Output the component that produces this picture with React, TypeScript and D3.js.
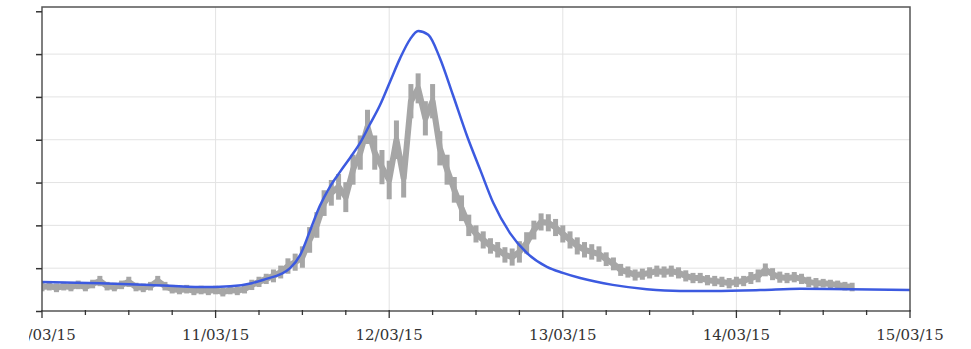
import * as d3 from "d3";
import { useEffect, useRef } from "react";

// model curve (blue): hours since 10/03/15 00:00 and value
const modelHours = [0, 8, 15, 22, 26, 29, 31, 33, 34.3, 35.7, 37, 38.4, 39.8, 41.2, 42.6, 44, 45.3, 46.7, 48.1, 49.5, 50.9, 52, 53.4, 55, 56.8, 58.8, 60.6, 62.4, 64.7, 67, 69.8, 72, 74.4, 78.9, 83.6, 88.2, 92.8, 99.3, 104.8, 111.7, 120];
const modelValues = [0.68, 0.65, 0.61, 0.56, 0.58, 0.65, 0.75, 0.86, 1.0, 1.31, 1.85, 2.45, 2.9, 3.25, 3.58, 3.93, 4.35, 4.8, 5.35, 5.9, 6.35, 6.54, 6.45, 5.91, 5.05, 4.07, 3.29, 2.52, 1.82, 1.36, 1.03, 0.89, 0.77, 0.61, 0.51, 0.47, 0.47, 0.49, 0.52, 0.51, 0.49];

// observed series (grey), one reading per hour from 10/03/15 00:00
const observed = [
  0.56, 0.58, 0.54, 0.58, 0.56, 0.61, 0.56, 0.63, 0.7, 0.58,
  0.56, 0.61, 0.68, 0.56, 0.54, 0.58, 0.7, 0.58, 0.51, 0.49,
  0.51, 0.47, 0.49, 0.47, 0.49, 0.44, 0.49, 0.47, 0.51, 0.61,
  0.68, 0.75, 0.82, 0.91, 1.05, 1.14, 1.26, 1.66, 2.01, 2.52,
  2.76, 2.9, 2.66, 3.3, 3.7, 4.3, 3.7, 3.36, 3.06, 4.0,
  3.1, 4.9, 5.2, 4.5, 4.9, 3.8, 3.3, 2.83, 2.4, 2.0,
  1.8, 1.66, 1.52, 1.43, 1.31, 1.26, 1.38, 1.59, 1.89, 2.08,
  2.06, 1.95, 1.8, 1.66, 1.52, 1.43, 1.38, 1.33, 1.21, 1.1,
  0.96, 0.91, 0.84, 0.86, 0.89, 0.93, 0.91, 0.93, 0.89, 0.82,
  0.77, 0.77, 0.72, 0.7, 0.68, 0.65, 0.68, 0.7, 0.77, 0.82,
  0.96, 0.86, 0.79, 0.77, 0.79, 0.75, 0.68, 0.65, 0.65, 0.63,
  0.61, 0.58, 0.56,
];
// half-range of the scatter around each hourly reading
const observedSpread = [
  0.1, 0.1, 0.1, 0.1, 0.1, 0.1, 0.1, 0.1, 0.12, 0.1,
  0.1, 0.1, 0.12, 0.1, 0.1, 0.1, 0.12, 0.1, 0.1, 0.1,
  0.1, 0.1, 0.1, 0.1, 0.1, 0.1, 0.1, 0.1, 0.1, 0.12,
  0.12, 0.12, 0.15, 0.15, 0.18, 0.2, 0.25, 0.3, 0.3, 0.3,
  0.3, 0.3, 0.35, 0.35, 0.4, 0.4, 0.4, 0.4, 0.45, 0.45,
  0.45, 0.4, 0.35, 0.4, 0.4, 0.4, 0.35, 0.3, 0.3, 0.25,
  0.2, 0.2, 0.18, 0.18, 0.18, 0.2, 0.25, 0.25, 0.22, 0.2,
  0.2, 0.2, 0.2, 0.2, 0.2, 0.18, 0.18, 0.18, 0.16, 0.15,
  0.14, 0.13, 0.13, 0.13, 0.13, 0.13, 0.13, 0.13, 0.13, 0.13,
  0.12, 0.12, 0.12, 0.12, 0.12, 0.12, 0.12, 0.12, 0.14, 0.15,
  0.15, 0.14, 0.13, 0.12, 0.12, 0.12, 0.12, 0.12, 0.1, 0.1,
  0.1, 0.1, 0.1,
];

const dayLabels = ["10/03/15", "11/03/15", "12/03/15", "13/03/15", "14/03/15", "15/03/15"];
const yTicks = [0, 1, 2, 3, 4, 5, 6, 7];

const W = 971;
const H = 349;
const M = { left: 42, right: 910, top: 7, bottom: 311 };

type Pt = { t: Date; v: number; s?: number };

export default function App() {
  const ref = useRef<SVGSVGElement>(null);

  useEffect(() => {
    const svg = d3.select(ref.current);
    svg.selectAll("*").remove();

    const start = new Date(2015, 2, 10);
    const hourDate = (h: number) => new Date(start.getTime() + h * 3600e3);
    const x = d3.scaleTime().domain([start, new Date(2015, 2, 15)]).range([M.left, M.right]);
    const y = d3.scaleLinear().domain([0, 7.1]).range([M.bottom, M.top]);

    const defs = svg.append("defs");
    defs.append("clipPath").attr("id", "lblclip").append("rect").attr("x", 29).attr("y", 0).attr("width", W).attr("height", H);
    defs.append("clipPath").attr("id", "plotclip").append("rect")
      .attr("x", M.left).attr("y", M.top).attr("width", M.right - M.left).attr("height", M.bottom - M.top);

    // grid
    const g = svg.append("g");
    g.selectAll("line.hg").data(yTicks.slice(1, 7)).join("line")
      .attr("x1", M.left).attr("x2", M.right)
      .attr("y1", (d) => y(d)).attr("y2", (d) => y(d))
      .attr("stroke", "#e3e3e3").attr("stroke-width", 1);
    const days = dayLabels.map((_, i) => d3.timeDay.offset(start, i));
    g.selectAll("line.vg").data(days.slice(1, 5)).join("line")
      .attr("x1", (d) => x(d)).attr("x2", (d) => x(d))
      .attr("y1", M.top).attr("y2", M.bottom)
      .attr("stroke", "#e3e3e3").attr("stroke-width", 1);

    // observed series
    const obs: Pt[] = observed.map((v, i) => ({ t: hourDate(i), v, s: observedSpread[i] }));
    const plot = svg.append("g").attr("clip-path", "url(#plotclip)");
    plot.append("path").datum(obs)
      .attr("d", d3.line<Pt>().x((d) => x(d.t)).y((d) => y(d.v)))
      .attr("fill", "none").attr("stroke", "#a6a6a6").attr("stroke-width", 6)
      .attr("stroke-linejoin", "round");
    plot.selectAll("rect.ob").data(obs).join("rect")
      .attr("x", (d) => x(d.t) - 2.5)
      .attr("y", (d) => y(d.v + (d.s ?? 0)))
      .attr("width", 5)
      .attr("height", (d) => y(d.v - (d.s ?? 0)) - y(d.v + (d.s ?? 0)))
      .attr("fill", "#a6a6a6");

    // model curve
    const mod: Pt[] = modelHours.map((h, i) => ({ t: hourDate(h), v: modelValues[i] }));
    plot.append("path").datum(mod)
      .attr("d", d3.line<Pt>().x((d) => x(d.t)).y((d) => y(d.v)).curve(d3.curveMonotoneX))
      .attr("fill", "none").attr("stroke", "#3c5ae0").attr("stroke-width", 2.5);

    // frame
    svg.append("rect")
      .attr("x", M.left).attr("y", M.top)
      .attr("width", M.right - M.left).attr("height", M.bottom - M.top)
      .attr("fill", "none").attr("stroke", "#555").attr("stroke-width", 1.5);

    // y ticks (labels cropped away)
    svg.selectAll("line.yt").data(yTicks).join("line")
      .attr("x1", M.left - 6).attr("x2", M.left)
      .attr("y1", (d) => y(d) + 0.5).attr("y2", (d) => y(d) + 0.5)
      .attr("stroke", "#333").attr("stroke-width", 1.5);

    // x ticks
    const minor = d3.timeHour.every(6)!.range(start, new Date(2015, 2, 15, 1));
    svg.selectAll("line.xt").data(minor).join("line")
      .attr("x1", (d) => x(d)).attr("x2", (d) => x(d))
      .attr("y1", M.bottom - 1)
      .attr("y2", (d) => (d.getHours() === 0 ? M.bottom + 7 : M.bottom + 4))
      .attr("stroke", "#333").attr("stroke-width", 1.3);

    svg.append("g").attr("clip-path", "url(#lblclip)")
      .selectAll("text").data(days).join("text")
      .attr("x", (d) => x(d)).attr("y", 340)
      .attr("text-anchor", "middle")
      .attr("font-family", "DejaVu Serif")
      .attr("font-size", 15)
      .attr("fill", "#333")
      .text((_, i) => dayLabels[i]);
  }, []);

  return (
    <svg ref={ref} width={W} height={H} style={{ position: "absolute", left: 0, top: 0, background: "#fff" }} />
  );
}
